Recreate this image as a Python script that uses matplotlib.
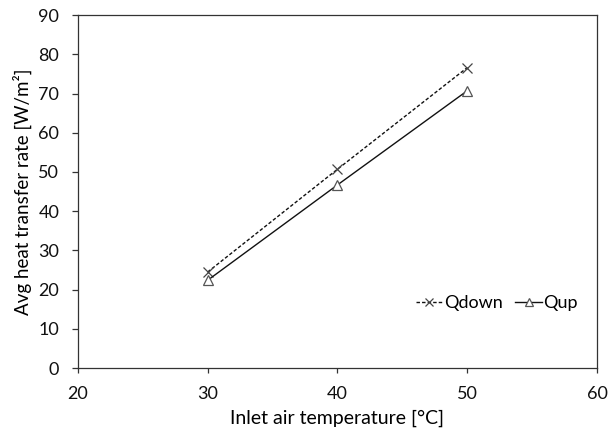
import matplotlib

matplotlib.use("Agg")
import matplotlib.pyplot as plt

# Data
inlet_temp = [30, 40, 50]
q_down = [24.5, 50.7, 76.6]
q_up = [22.4, 46.7, 70.7]

plt.rcParams["font.family"] = ["Lato", "DejaVu Sans"]

fig, ax = plt.subplots(figsize=(6.08, 4.42), dpi=100)
fig.subplots_adjust(left=0.128, right=0.982, top=0.966, bottom=0.167)

ax.plot(inlet_temp, q_down, color="#111111", ls=(0, (2.5, 1.5)), lw=1.0,
        marker="x", ms=6.5, mec="#444444", mew=0.9, label="Qdown")
ax.plot(inlet_temp, q_up, color="#111111", ls="-", lw=1.0,
        marker="^", ms=7, mfc="white", mec="#555555", mew=0.9, label="Qup")

ax.set_xlim(20, 60)
ax.set_ylim(0, 90)
ax.set_xticks([20, 30, 40, 50, 60])
ax.set_yticks(range(0, 91, 10))
ax.tick_params(labelsize=13, width=0.9, colors="#333333", labelcolor="#111111")
ax.tick_params(axis="x", length=3.6, pad=9)
ax.tick_params(axis="y", length=4.3, pad=9)
for side in ("left", "bottom", "top", "right"):
    ax.spines[side].set_linewidth(0.9)
    ax.spines[side].set_color("#333333")

ax.set_xlabel("Inlet air temperature [°C]", fontsize=14, labelpad=6)
ax.set_ylabel("Avg heat transfer rate [W/m²]", fontsize=13.5, labelpad=5)

ax.legend(loc="center right", bbox_to_anchor=(0.98, 0.184), ncol=2, frameon=False,
          borderpad=0, fontsize=13, handlelength=1.5, handletextpad=0.05,
          columnspacing=0.7, markerscale=0.85)

fig.savefig("out.png", dpi=100)
